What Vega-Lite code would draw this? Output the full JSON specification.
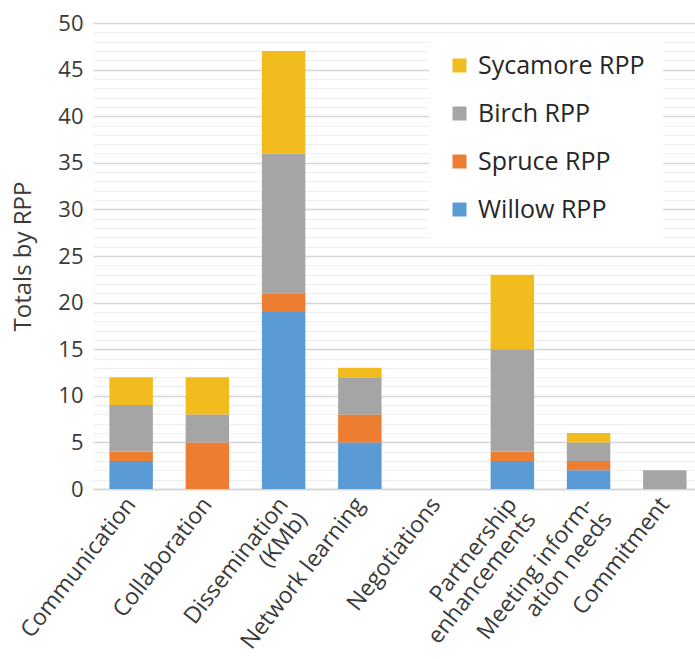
{
  "$schema": "https://vega.github.io/schema/vega-lite/v6.json",
  "autosize": {"type": "none"},
  "padding": {"left": 93, "top": 23, "right": 0, "bottom": 170},
  "width": 602,
  "height": 466,
  "background": "white",
  "config": {
    "view": {"stroke": null},
    "font": "Open Sans",
    "text": {"font": "Open Sans"}
  },
  "data": {
    "values": [
      {"category": "Communication", "series": "Willow RPP", "value": 3},
      {"category": "Communication", "series": "Spruce RPP", "value": 1},
      {"category": "Communication", "series": "Birch RPP", "value": 5},
      {"category": "Communication", "series": "Sycamore RPP", "value": 3},
      {"category": "Collaboration", "series": "Willow RPP", "value": 0},
      {"category": "Collaboration", "series": "Spruce RPP", "value": 5},
      {"category": "Collaboration", "series": "Birch RPP", "value": 3},
      {"category": "Collaboration", "series": "Sycamore RPP", "value": 4},
      {"category": "Dissemination|(KMb)", "series": "Willow RPP", "value": 19},
      {"category": "Dissemination|(KMb)", "series": "Spruce RPP", "value": 2},
      {"category": "Dissemination|(KMb)", "series": "Birch RPP", "value": 15},
      {"category": "Dissemination|(KMb)", "series": "Sycamore RPP", "value": 11},
      {"category": "Network learning", "series": "Willow RPP", "value": 5},
      {"category": "Network learning", "series": "Spruce RPP", "value": 3},
      {"category": "Network learning", "series": "Birch RPP", "value": 4},
      {"category": "Network learning", "series": "Sycamore RPP", "value": 1},
      {"category": "Negotiations", "series": "Willow RPP", "value": 0},
      {"category": "Negotiations", "series": "Spruce RPP", "value": 0},
      {"category": "Negotiations", "series": "Birch RPP", "value": 0},
      {"category": "Negotiations", "series": "Sycamore RPP", "value": 0},
      {"category": "Partnership|enhancements", "series": "Willow RPP", "value": 3},
      {"category": "Partnership|enhancements", "series": "Spruce RPP", "value": 1},
      {"category": "Partnership|enhancements", "series": "Birch RPP", "value": 11},
      {"category": "Partnership|enhancements", "series": "Sycamore RPP", "value": 8},
      {"category": "Meeting inform-|ation needs", "series": "Willow RPP", "value": 2},
      {"category": "Meeting inform-|ation needs", "series": "Spruce RPP", "value": 1},
      {"category": "Meeting inform-|ation needs", "series": "Birch RPP", "value": 2},
      {"category": "Meeting inform-|ation needs", "series": "Sycamore RPP", "value": 1},
      {"category": "Commitment", "series": "Willow RPP", "value": 0},
      {"category": "Commitment", "series": "Spruce RPP", "value": 0},
      {"category": "Commitment", "series": "Birch RPP", "value": 2},
      {"category": "Commitment", "series": "Sycamore RPP", "value": 0}
    ]
  },
  "transform": [
    {"calculate": "indexof(['Willow RPP','Spruce RPP','Birch RPP','Sycamore RPP'], datum.series)", "as": "stackOrder"}
  ],
  "mark": {"type": "bar"},
  "encoding": {
    "x": {
      "field": "category",
      "type": "nominal",
      "sort": null,
      "scale": {"paddingInner": 0.43, "paddingOuter": 0.163, "align": 0.66},
      "axis": {
        "title": null,
        "labelExpr": "split(datum.value, '|')",
        "labelAngle": -52,
        "labelAlign": "right",
        "labelBaseline": "middle",
        "labelFontSize": 23,
        "labelLineHeight": 24,
        "labelColor": "#3a3a3a",
        "labelPadding": 11,
        "labelLimit": 400,
        "labelOverlap": false,
        "ticks": false,
        "domainColor": "#d4d4d4",
        "domainWidth": 1.5,
        "grid": false
      }
    },
    "y": {
      "field": "value",
      "type": "quantitative",
      "aggregate": "sum",
      "stack": "zero",
      "scale": {"domain": [0, 50], "nice": false},
      "axis": {
        "title": "Totals by RPP",
        "titleFontSize": 24,
        "titleFontWeight": "normal",
        "titleColor": "#3a3a3a",
        "titlePadding": 22,
        "values": [0,1,2,3,4,5,6,7,8,9,10,11,12,13,14,15,16,17,18,19,20,21,22,23,24,25,26,27,28,29,30,31,32,33,34,35,36,37,38,39,40,41,42,43,44,45,46,47,48,49,50],
        "labelExpr": "datum.value % 5 === 0 ? datum.label : ''",
        "labelFontSize": 22,
        "labelColor": "#3a3a3a",
        "labelPadding": 10,
        "ticks": false,
        "domain": false,
        "grid": true,
        "gridColor": {"condition": {"test": "datum.value % 5 === 0", "value": "#d6d6d6"}, "value": "#eeeeee"},
        "gridWidth": {"condition": {"test": "datum.value % 5 === 0", "value": 1.6}, "value": 1}
      }
    },
    "color": {
      "field": "series",
      "type": "nominal",
      "scale": {
        "domain": ["Sycamore RPP", "Birch RPP", "Spruce RPP", "Willow RPP"],
        "range": ["#F2BC1F", "#A5A5A5", "#ED7D31", "#5B9BD5"]
      },
      "legend": {
        "title": null,
        "orient": "none",
        "legendX": 336,
        "legendY": 12,
        "padding": 18,
        "fillColor": "white",
        "symbolType": "square",
        "symbolSize": 196,
        "symbolStrokeWidth": 0,
        "symbolOpacity": 1,
        "labelFontSize": 25,
        "labelColor": "#262626",
        "labelOffset": 6,
        "rowPadding": 22,
        "labelLimit": 400,
        "encode": {
          "symbols": {
            "update": {
              "fill": {"signal": "datum.value === 'Willow RPP' ? '#4472C4' : scale('color', datum.value)"}
            }
          }
        }
      }
    },
    "order": {"field": "stackOrder", "type": "quantitative"}
  }
}
